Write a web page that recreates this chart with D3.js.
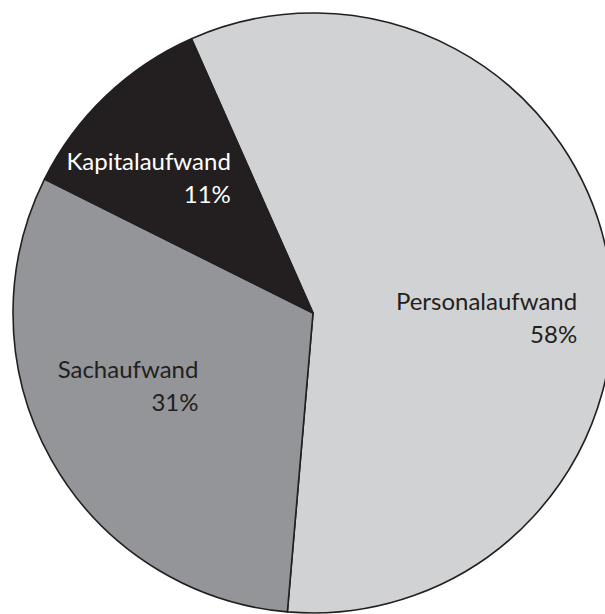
<!DOCTYPE html>
<html>
<head>
<meta charset="utf-8">
<script src="https://cdn.jsdelivr.net/npm/d3@7"></script>
<style>
  body { margin: 0; background: #fff; }
  svg { display: block; }
</style>
</head>
<body>
<svg id="chart" width="605" height="614"></svg>
<script>
const categories = ['Personalaufwand', 'Sachaufwand', 'Kapitalaufwand']
const shares = [58, 31, 11]
const percentLabels = ['58%', '31%', '11%']

const colors = ['#d1d2d4', '#939598', '#231f20']
const textColors = ['#231f20', '#231f20', '#ffffff']
// hand-tuned nudges from the arc centroid to the centre of each label block
const labelNudge = [[-4, 34], [-28, -16], [-40, -5]]

const width = 605
const height = 614
const cx = 313
const cy = 313
const radius = 300

const svg = d3.select('#chart')
const g = svg.append('g').attr('transform', `translate(${cx},${cy})`)

const startAngle = -23.9 * Math.PI / 180
const pie = d3.pie()
    .sort(null)
    .value(d => d)
    .startAngle(startAngle)
    .endAngle(startAngle + 2 * Math.PI)

const arcs = pie(shares)

const arc = d3.arc().innerRadius(0).outerRadius(radius)
const labelArc = d3.arc().innerRadius(radius * 0.6).outerRadius(radius * 0.6)

g.selectAll('path').data(arcs).enter()
    .append('path')
    .attr('d', arc)
    .attr('fill', (d, i) => colors[i])
    .attr('stroke', '#231f20')
    .attr('stroke-width', 1.6)
    .attr('stroke-linejoin', 'round')

const lineGap = 33
const fontSize = 24

arcs.forEach((d, i) => {
    const c = labelArc.centroid(d)
    const bx = c[0] + labelNudge[i][0]
    const by = c[1] + labelNudge[i][1]
    const label = g.append('g')
    const t1 = label.append('text')
        .text(categories[i])
        .attr('font-family', 'Lato, sans-serif')
        .attr('font-size', fontSize)
        .attr('fill', textColors[i])
    const w = t1.node().getComputedTextLength()
    const right = bx + w / 2
    t1.attr('x', right).attr('y', by - lineGap / 2 + 9).attr('text-anchor', 'end')
    label.append('text')
        .text(percentLabels[i])
        .attr('font-family', 'Lato, sans-serif')
        .attr('font-size', fontSize)
        .attr('fill', textColors[i])
        .attr('text-anchor', 'end')
        .attr('x', right)
        .attr('y', by + lineGap / 2 + 9)
})
</script>
</body>
</html>
